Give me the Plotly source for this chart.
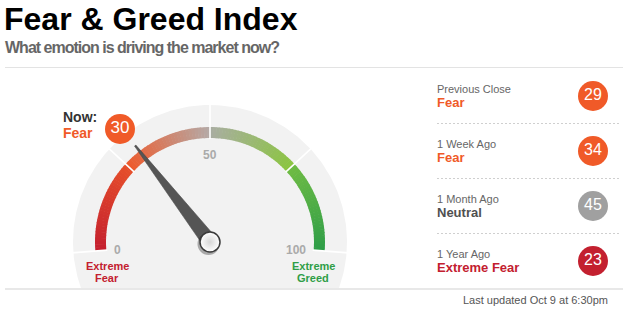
import math
import plotly.graph_objects as go

# ---------------- data ----------------
title_text = "Fear & Greed Index"
subtitle_text = "What emotion is driving the market now?"
now_label = "Now:"
current_value = 30
current_rating = "Fear"
gauge_ticks = [0, 50, 100]
zone_bounds = [0, 25, 50, 75, 100]
end_labels = [["Extreme", "Fear"], ["Extreme", "Greed"]]
history_labels = ["Previous Close", "1 Week Ago", "1 Month Ago", "1 Year Ago"]
history_values = [29, 34, 45, 23]
history_ratings = ["Fear", "Fear", "Neutral", "Extreme Fear"]
updated_text = "Last updated Oct 9 at 6:30pm"

# ---------------- styles ----------------
FONT = "Liberation Sans, Arial, sans-serif"
W, H = 626, 314
CX, CY = 210, 242
R_BG, R_OUT, R_IN = 137, 115, 104
A0, SPAN = 184.5, 189.0
PAD = 2  # annotation inner padding compensation
zone_colors = [("#c41f2e", "#e64f2b"), ("#ee5a2c", "#b4aaa7"),
               ("#a9ada2", "#8bc540"), ("#6fbb44", "#2e9e48")]
rating_fill = {"Extreme Fear": "#c3202f", "Fear": "#f05a28", "Neutral": "#a0a0a0",
               "Greed": "#8bc540", "Extreme Greed": "#2e9e48"}
rating_text = {"Extreme Fear": "#c3202f", "Fear": "#f05a28", "Neutral": "#505050",
               "Greed": "#6fae2e", "Extreme Greed": "#2e9e48"}
end_colors = ["#c3202f", "#2f9e47"]


def ang(v):
    return math.radians(A0 - SPAN * v / 100.0)


def pt(v, r):
    a = ang(v)
    return CX + r * math.cos(a), CY - r * math.sin(a)


def hex2rgb(h):
    h = h.lstrip("#")
    return [int(h[i:i + 2], 16) for i in (0, 2, 4)]


def mix(c1, c2, t):
    a, b = hex2rgb(c1), hex2rgb(c2)
    return "rgb(%d,%d,%d)" % tuple(round(a[i] + (b[i] - a[i]) * t) for i in range(3))


fig = go.Figure()

# grey gauge background (circle clipped at the bottom rule)
BOTTOM = 288
lim = math.degrees(math.asin((CY - BOTTOM) / R_BG))
xs, ys = [], []
n = 200
for i in range(n + 1):
    a = math.radians(lim + (180 - 2 * lim) * i / n)
    xs.append(CX + R_BG * math.cos(a))
    ys.append(CY - R_BG * math.sin(a))
fig.add_trace(go.Scatter(x=xs, y=ys, fill="toself", fillcolor="#f2f2f2", mode="lines",
                         line=dict(width=0), hoverinfo="skip", showlegend=False))

# coloured arc, each zone a gradient
steps = 30
for z in range(len(zone_bounds) - 1):
    v0, v1 = zone_bounds[z], zone_bounds[z + 1]
    c0, c1 = zone_colors[z]
    for k in range(steps):
        va = v0 + (v1 - v0) * k / steps
        vb = v0 + (v1 - v0) * (k + 1) / steps
        vb2 = min(vb + 0.15, v1) if k < steps - 1 else vb
        na = 4
        px, py = [], []
        for j in range(na + 1):
            vv = va + (vb2 - va) * j / na
            x, y = pt(vv, R_OUT)
            px.append(x); py.append(y)
        for j in range(na + 1):
            vv = vb2 - (vb2 - va) * j / na
            x, y = pt(vv, R_IN)
            px.append(x); py.append(y)
        col = mix(c0, c1, (k + 0.5) / steps)
        fig.add_trace(go.Scatter(x=px, y=py, fill="toself", fillcolor=col, mode="lines",
                                 line=dict(width=0), hoverinfo="skip", showlegend=False))

# white dividers at zone bounds
for v in zone_bounds:
    x0, y0 = pt(v, R_IN - 1)
    x1, y1 = pt(v, R_BG + 2)
    fig.add_trace(go.Scatter(x=[x0, x1], y=[y0, y1], mode="lines",
                             line=dict(color="white", width=1.6),
                             hoverinfo="skip", showlegend=False))

# needle
a = ang(current_value)
ux, uy = math.cos(a), -math.sin(a)
nx, ny = -uy, ux
L, hw0, hw1 = 122, 7.5, 0.8
needle_x = [CX + nx * hw0, CX + ux * L + nx * hw1, CX + ux * L - nx * hw1, CX - nx * hw0]
needle_y = [CY + ny * hw0, CY + uy * L + ny * hw1, CY + uy * L - ny * hw1, CY - ny * hw0]
fig.add_trace(go.Scatter(x=needle_x, y=needle_y, fill="toself", fillcolor="#555555",
                         mode="lines", line=dict(width=0.6, color="#444444"),
                         hoverinfo="skip", showlegend=False))

# knob
fig.add_trace(go.Scatter(x=[CX - 1.5], y=[CY + 2], mode="markers",
                         marker=dict(size=22, color="rgba(0,0,0,0.3)", line=dict(width=0)),
                         hoverinfo="skip", showlegend=False))
fig.add_trace(go.Scatter(x=[CX], y=[CY], mode="markers",
                         marker=dict(size=20, color="#ffffff",
                                     gradient=dict(type="radial", color="#d6d6d6"),
                                     line=dict(width=1.5, color="#3a3a3a")),
                         hoverinfo="skip", showlegend=False))

# tick labels
for v in gauge_ticks:
    if v == gauge_ticks[0]:
        x, y = pt(v, 95); xa = "left"; x -= PAD + 1
    elif v == gauge_ticks[-1]:
        x, y = pt(v, 95); xa = "right"; x += PAD + 1
    else:
        x, y = pt(v, 88.5); xa = "center"
    fig.add_annotation(x=x, y=y + 1, text="<b>%d</b>" % v, showarrow=False, xanchor=xa,
                       yanchor="middle", font=dict(family=FONT, size=12, color="#aaaaaa"))

# end labels
for side, lines in enumerate(end_labels):
    x = CX - 103 if side == 0 else CX + 103
    for li, t in enumerate(lines):
        fig.add_annotation(x=x, y=265.5 + li * 12.5, text="<b>%s</b>" % t, showarrow=False,
                           xanchor="center", yanchor="middle",
                           font=dict(family=FONT, size=11, color=end_colors[side]))

# current value bubble + labels
fig.add_trace(go.Scatter(x=[120], y=[129], mode="markers+text", text=[str(current_value)],
                         textposition="middle center",
                         textfont=dict(family=FONT, size=17, color="white"),
                         marker=dict(size=30, color=rating_fill[current_rating], line=dict(width=0)),
                         hoverinfo="skip", showlegend=False))
fig.add_annotation(x=63 - PAD, y=117, text="<b>%s</b>" % now_label, showarrow=False,
                   xanchor="left", yanchor="middle",
                   font=dict(family=FONT, size=14, color="#333333"))
fig.add_annotation(x=63 - PAD, y=133, text="<b>%s</b>" % current_rating, showarrow=False,
                   xanchor="left", yanchor="middle",
                   font=dict(family=FONT, size=14, color=rating_text[current_rating]))

# history panel
PITCH = 55
for i, (lab, val, rat) in enumerate(zip(history_labels, history_values, history_ratings)):
    off = i * PITCH
    fig.add_annotation(x=437 - PAD, y=88.5 + off, text=lab, showarrow=False, xanchor="left",
                       yanchor="middle", font=dict(family=FONT, size=11, color="#666666"))
    fig.add_annotation(x=437 - PAD, y=102.5 + off, text="<b>%s</b>" % rat, showarrow=False,
                       xanchor="left", yanchor="middle",
                       font=dict(family=FONT, size=13, color=rating_text[rat]))
    fig.add_trace(go.Scatter(x=[593], y=[96 + off], mode="markers+text", text=[str(val)],
                             textposition="middle center",
                             textfont=dict(family=FONT, size=16, color="white"),
                             marker=dict(size=30, color=rating_fill[rat], line=dict(width=0)),
                             hoverinfo="skip", showlegend=False))
    if i < len(history_labels) - 1:
        fig.add_shape(type="line", x0=437, x1=619, y0=123.5 + off, y1=123.5 + off,
                      xref="x", yref="y", line=dict(color="#cfcfcf", width=1, dash="2px,2px"))

# title & subtitle
fig.add_annotation(x=5 - PAD - 1, y=18.5, text="<b>%s</b>" % title_text, showarrow=False,
                   xanchor="left", yanchor="middle",
                   font=dict(family=FONT, size=32, color="#000000"))
fig.add_annotation(x=5 - PAD, y=47.5,
                   text="<b><span style='letter-spacing:-1px'>%s</span></b>" % subtitle_text,
                   showarrow=False, xanchor="left", yanchor="middle",
                   font=dict(family=FONT, size=16, color="#666666"))

# rules
fig.add_shape(type="line", x0=5, x1=623, y0=67.5, y1=67.5, xref="x", yref="y",
              line=dict(color="#e3e3e3", width=1))
fig.add_shape(type="line", x0=5, x1=623, y0=289, y1=289, xref="x", yref="y",
              line=dict(color="#e8e8e8", width=2))
fig.add_annotation(x=608 + PAD, y=299.5, text=updated_text, showarrow=False, xanchor="right",
                   yanchor="middle", font=dict(family=FONT, size=11, color="#555555"))

fig.update_layout(width=W, height=H, margin=dict(l=0, r=0, t=0, b=0),
                  paper_bgcolor="white", plot_bgcolor="white",
                  xaxis=dict(range=[0, W], visible=False, fixedrange=True),
                  yaxis=dict(range=[H, 0], visible=False, fixedrange=True),
                  showlegend=False)
fig.write_html("out.html", config={"displayModeBar": False})
